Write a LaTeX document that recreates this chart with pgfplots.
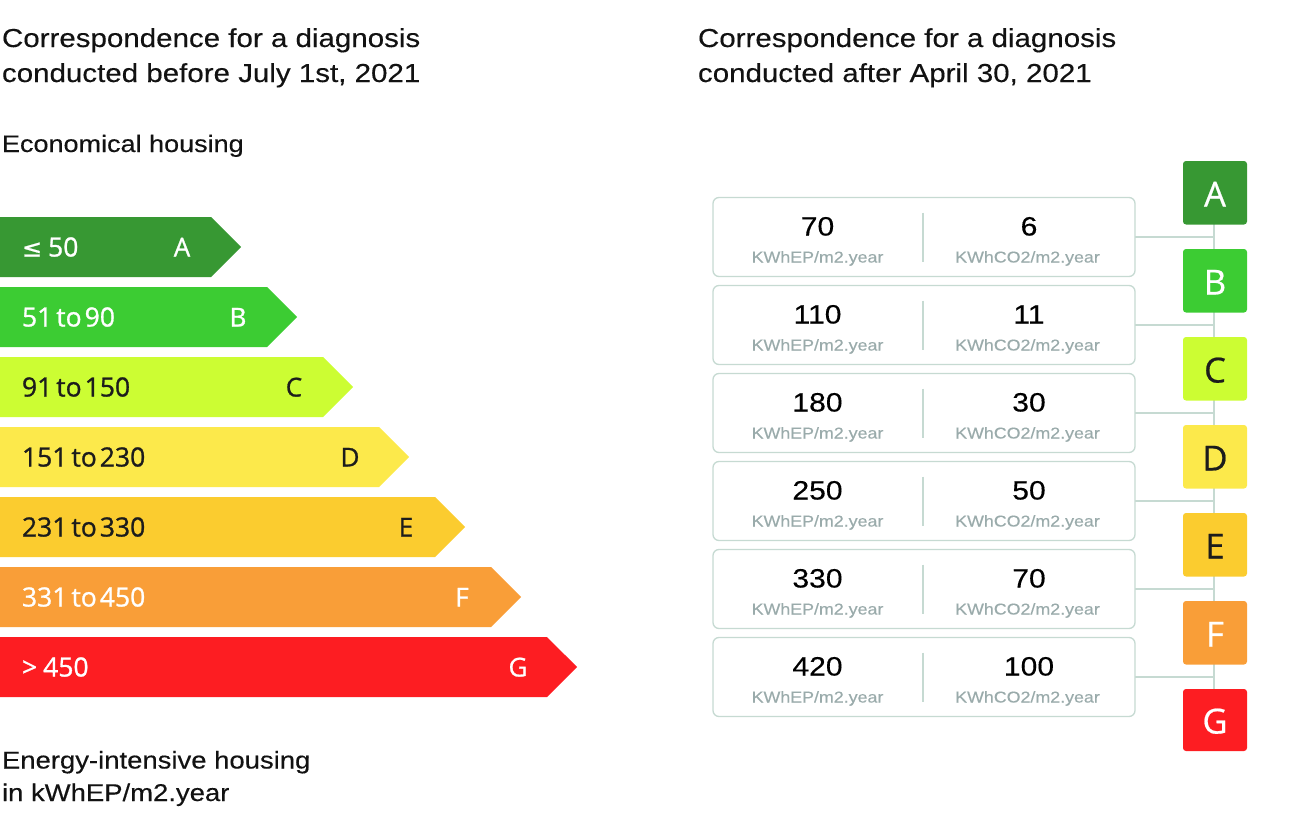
\documentclass[border=0pt]{standalone}
\usepackage{pgfplots}
\pgfplotsset{compat=1.18}
\usepackage{fontspec}
\setmainfont{Liberation Sans}
\newfontfamily\interf[FakeStretch=1.135, FakeBold=0.3]{Liberation Sans}
\newfontfamily\osans[FakeBold=1]{Open Sans}
\newfontfamily\osanl[FakeBold=0.6]{Open Sans}
\newfontfamily\dejavu[FakeBold=0.8]{DejaVu Sans}
\definecolor{cA}{RGB}{55,152,51}
\definecolor{cB}{RGB}{60,204,51}
\definecolor{cC}{RGB}{204,253,51}
\definecolor{cD}{RGB}{252,233,75}
\definecolor{cE}{RGB}{251,204,47}
\definecolor{cF}{RGB}{249,158,56}
\definecolor{cG}{RGB}{253,29,34}
\definecolor{bord}{RGB}{198,218,210}
\definecolor{unitc}{RGB}{154,171,171}
\definecolor{dark}{RGB}{28,28,28}
\newcommand\fs[1]{\fontsize{#1bp}{#1bp}\selectfont}
\newcommand\tto{\hspace{4bp}to\hspace{3bp}}
\begin{document}
\begin{tikzpicture}[every node/.style={inner sep=0pt, outer sep=0pt}]
\begin{axis}[x=1bp, y=1bp, y dir=reverse, xmin=0, xmax=1297, ymin=0, ymax=828,
  hide axis, clip=false, scale only axis]
\path (axis cs:0,0) rectangle (axis cs:1297,828);
% ---------- titles ----------
\node[anchor=base west, font=\interf\fs{26}, text=black!93] at (axis cs:2,47) {Correspondence for a diagnosis};
\node[anchor=base west, font=\interf\fs{26}, text=black!93] at (axis cs:2,82) {conducted before July 1st, 2021};
\node[anchor=base west, font=\interf\fs{26}, text=black!93] at (axis cs:698,47) {Correspondence for a diagnosis};
\node[anchor=base west, font=\interf\fs{26}, text=black!93] at (axis cs:698,82) {conducted after April 30, 2021};
\node[anchor=base west, font=\interf\fs{23.8}, text=black!93] at (axis cs:2,152) {Economical housing};
\node[anchor=base west, font=\interf\fs{24.2}, text=black!93] at (axis cs:2,768.5) {Energy-intensive housing};
\node[anchor=base west, font=\interf\fs{24.2}, text=black!93] at (axis cs:2,801) {in kWhEP/m2.year};
% ---------- left arrows ----------
\addplot[draw=none, fill=cA] coordinates {(0,217) (211,217) (241,247) (211,277) (0,277)} -- cycle;
\addplot[draw=none, fill=cB] coordinates {(0,287) (267,287) (297,317) (267,347) (0,347)} -- cycle;
\addplot[draw=none, fill=cC] coordinates {(0,357) (323,357) (353,387) (323,417) (0,417)} -- cycle;
\addplot[draw=none, fill=cD] coordinates {(0,427) (379,427) (409,457) (379,487) (0,487)} -- cycle;
\addplot[draw=none, fill=cE] coordinates {(0,497) (435,497) (465,527) (435,557) (0,557)} -- cycle;
\addplot[draw=none, fill=cF] coordinates {(0,567) (491,567) (521,597) (491,627) (0,627)} -- cycle;
\addplot[draw=none, fill=cG] coordinates {(0,637) (547,637) (577,667) (547,697) (0,697)} -- cycle;
% labels on arrows
\node[anchor=base west, font=\osans\fs{26.5}, text=white] at (axis cs:22,256.5) {{\dejavu\fs{24}≤}\hspace{6bp}50};
\node[anchor=base west, font=\osans\fs{26.5}, text=white] at (axis cs:22,326.5) {51\tto 90};
\node[anchor=base west, font=\osans\fs{26.5}, text=dark] at (axis cs:22,396.5) {91\tto 150};
\node[anchor=base west, font=\osans\fs{26.5}, text=dark] at (axis cs:22,466.5) {151\tto 230};
\node[anchor=base west, font=\osans\fs{26.5}, text=dark] at (axis cs:22,536.5) {231\tto 330};
\node[anchor=base west, font=\osans\fs{26.5}, text=white] at (axis cs:22,606.5) {331\tto 450};
\node[anchor=base west, font=\osans\fs{26.5}, text=white] at (axis cs:22,676.5) {>\hspace{6bp}450};
\node[anchor=base, font=\osans\fs{26}, text=white] at (axis cs:182,256.5) {A};
\node[anchor=base, font=\osans\fs{26}, text=white] at (axis cs:238,326.5) {B};
\node[anchor=base, font=\osans\fs{26}, text=dark] at (axis cs:294,396.5) {C};
\node[anchor=base, font=\osans\fs{26}, text=dark] at (axis cs:350,466.5) {D};
\node[anchor=base, font=\osans\fs{26}, text=dark] at (axis cs:406,536.5) {E};
\node[anchor=base, font=\osans\fs{26}, text=white] at (axis cs:462,606.5) {F};
\node[anchor=base, font=\osans\fs{26}, text=white] at (axis cs:518,676.5) {G};
% ---------- connectors ----------
\addplot[bord, line width=2bp] coordinates {(1214,193) (1214,720)};
\addplot[bord, line width=2bp] coordinates {(1135,237) (1214,237)};
\addplot[bord, line width=2bp] coordinates {(1135,325) (1214,325)};
\addplot[bord, line width=2bp] coordinates {(1135,413) (1214,413)};
\addplot[bord, line width=2bp] coordinates {(1135,501) (1214,501)};
\addplot[bord, line width=2bp] coordinates {(1135,589) (1214,589)};
\addplot[bord, line width=2bp] coordinates {(1135,677) (1214,677)};
% ---------- boxes ----------
\addplot[draw=bord, fill=white, line width=1.3bp, rounded corners=6bp] coordinates {(713,197.5) (1135,197.5) (1135,276.5) (713,276.5)} -- cycle;
\addplot[draw=bord, fill=white, line width=1.3bp, rounded corners=6bp] coordinates {(713,285.5) (1135,285.5) (1135,364.5) (713,364.5)} -- cycle;
\addplot[draw=bord, fill=white, line width=1.3bp, rounded corners=6bp] coordinates {(713,373.5) (1135,373.5) (1135,452.5) (713,452.5)} -- cycle;
\addplot[draw=bord, fill=white, line width=1.3bp, rounded corners=6bp] coordinates {(713,461.5) (1135,461.5) (1135,540.5) (713,540.5)} -- cycle;
\addplot[draw=bord, fill=white, line width=1.3bp, rounded corners=6bp] coordinates {(713,549.5) (1135,549.5) (1135,628.5) (713,628.5)} -- cycle;
\addplot[draw=bord, fill=white, line width=1.3bp, rounded corners=6bp] coordinates {(713,637.5) (1135,637.5) (1135,716.5) (713,716.5)} -- cycle;
% dividers
\addplot[bord, line width=2bp] coordinates {(922.7,212.5) (922.7,261.5)};
\addplot[bord, line width=2bp] coordinates {(922.7,300.5) (922.7,349.5)};
\addplot[bord, line width=2bp] coordinates {(922.7,388.5) (922.7,437.5)};
\addplot[bord, line width=2bp] coordinates {(922.7,476.5) (922.7,525.5)};
\addplot[bord, line width=2bp] coordinates {(922.7,564.5) (922.7,613.5)};
\addplot[bord, line width=2bp] coordinates {(922.7,652.5) (922.7,701.5)};
% numbers
\node[anchor=base, font=\interf\fs{26.5}, text=black] at (axis cs:817.5,235.5) {70};
\node[anchor=base, font=\interf\fs{26.5}, text=black] at (axis cs:1029,235.5) {6};
\node[anchor=base, font=\interf\fs{26.5}, text=black] at (axis cs:817.5,323.5) {110};
\node[anchor=base, font=\interf\fs{26.5}, text=black] at (axis cs:1029,323.5) {11};
\node[anchor=base, font=\interf\fs{26.5}, text=black] at (axis cs:817.5,411.5) {180};
\node[anchor=base, font=\interf\fs{26.5}, text=black] at (axis cs:1029,411.5) {30};
\node[anchor=base, font=\interf\fs{26.5}, text=black] at (axis cs:817.5,499.5) {250};
\node[anchor=base, font=\interf\fs{26.5}, text=black] at (axis cs:1029,499.5) {50};
\node[anchor=base, font=\interf\fs{26.5}, text=black] at (axis cs:817.5,587.5) {330};
\node[anchor=base, font=\interf\fs{26.5}, text=black] at (axis cs:1029,587.5) {70};
\node[anchor=base, font=\interf\fs{26.5}, text=black] at (axis cs:817.5,675.5) {420};
\node[anchor=base, font=\interf\fs{26.5}, text=black] at (axis cs:1029,675.5) {100};
% units
\node[anchor=base, font=\interf\fs{15.7}, text=unitc] at (axis cs:817.5,262.5) {KWhEP/m2.year};
\node[anchor=base, font=\interf\fs{15.7}, text=unitc] at (axis cs:1027.5,262.5) {KWhCO2/m2.year};
\node[anchor=base, font=\interf\fs{15.7}, text=unitc] at (axis cs:817.5,350.5) {KWhEP/m2.year};
\node[anchor=base, font=\interf\fs{15.7}, text=unitc] at (axis cs:1027.5,350.5) {KWhCO2/m2.year};
\node[anchor=base, font=\interf\fs{15.7}, text=unitc] at (axis cs:817.5,438.5) {KWhEP/m2.year};
\node[anchor=base, font=\interf\fs{15.7}, text=unitc] at (axis cs:1027.5,438.5) {KWhCO2/m2.year};
\node[anchor=base, font=\interf\fs{15.7}, text=unitc] at (axis cs:817.5,526.5) {KWhEP/m2.year};
\node[anchor=base, font=\interf\fs{15.7}, text=unitc] at (axis cs:1027.5,526.5) {KWhCO2/m2.year};
\node[anchor=base, font=\interf\fs{15.7}, text=unitc] at (axis cs:817.5,614.5) {KWhEP/m2.year};
\node[anchor=base, font=\interf\fs{15.7}, text=unitc] at (axis cs:1027.5,614.5) {KWhCO2/m2.year};
\node[anchor=base, font=\interf\fs{15.7}, text=unitc] at (axis cs:817.5,702.5) {KWhEP/m2.year};
\node[anchor=base, font=\interf\fs{15.7}, text=unitc] at (axis cs:1027.5,702.5) {KWhCO2/m2.year};
% ---------- class squares ----------
\addplot[draw=none, fill=cA, rounded corners=3bp] coordinates {(1183,161) (1247,161) (1247,224.5) (1183,224.5)} -- cycle;
\addplot[draw=none, fill=cB, rounded corners=3bp] coordinates {(1183,249) (1247,249) (1247,312.5) (1183,312.5)} -- cycle;
\addplot[draw=none, fill=cC, rounded corners=3bp] coordinates {(1183,337) (1247,337) (1247,400.5) (1183,400.5)} -- cycle;
\addplot[draw=none, fill=cD, rounded corners=3bp] coordinates {(1183,425) (1247,425) (1247,488.5) (1183,488.5)} -- cycle;
\addplot[draw=none, fill=cE, rounded corners=3bp] coordinates {(1183,513) (1247,513) (1247,576.5) (1183,576.5)} -- cycle;
\addplot[draw=none, fill=cF, rounded corners=3bp] coordinates {(1183,601) (1247,601) (1247,664.5) (1183,664.5)} -- cycle;
\addplot[draw=none, fill=cG, rounded corners=3bp] coordinates {(1183,689) (1247,689) (1247,751) (1183,751)} -- cycle;
\node[anchor=base, font=\osanl\fs{34.5}, text=white] at (axis cs:1215,206.5) {A};
\node[anchor=base, font=\osanl\fs{34.5}, text=white] at (axis cs:1215,294.5) {B};
\node[anchor=base, font=\osanl\fs{34.5}, text=dark] at (axis cs:1215,382.5) {C};
\node[anchor=base, font=\osanl\fs{34.5}, text=dark] at (axis cs:1215,470.5) {D};
\node[anchor=base, font=\osanl\fs{34.5}, text=dark] at (axis cs:1215,558.5) {E};
\node[anchor=base, font=\osanl\fs{34.5}, text=white] at (axis cs:1215,646.5) {F};
\node[anchor=base, font=\osanl\fs{34.5}, text=white] at (axis cs:1215,733.5) {G};
\end{axis}
\end{tikzpicture}
\end{document}
